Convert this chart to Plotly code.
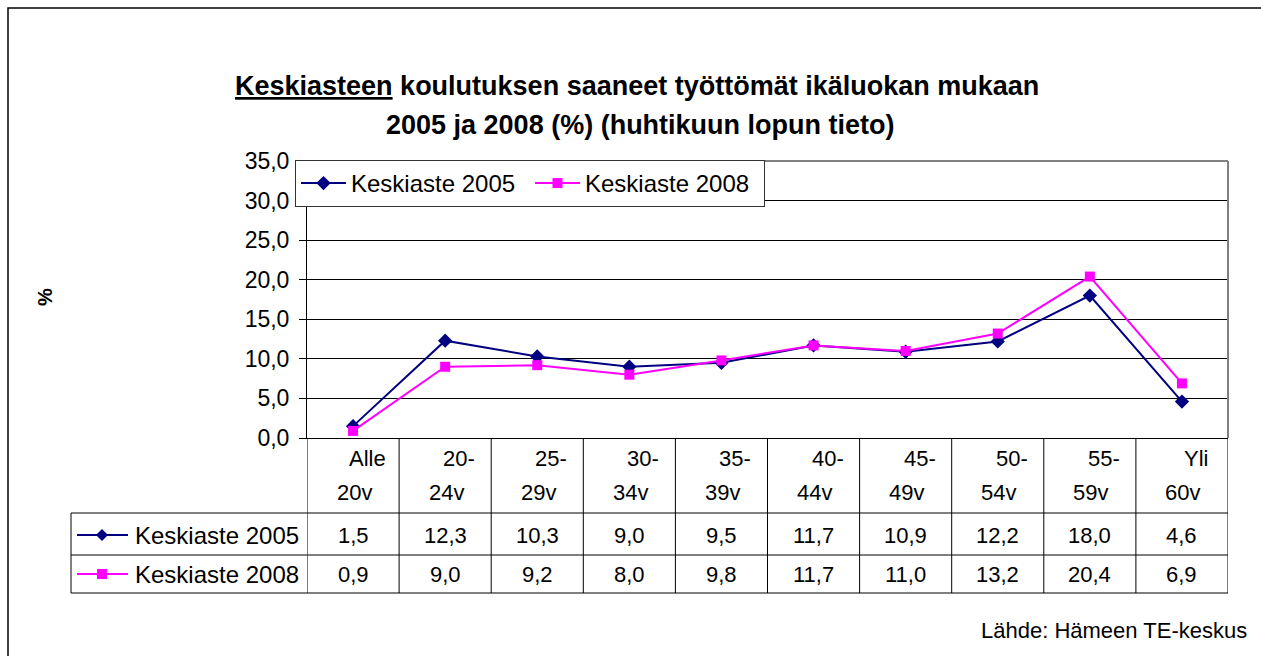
import plotly.graph_objects as go

# ---------------- data ----------------
cat_line1 = ["Alle", "20-", "25-", "30-", "35-", "40-", "45-", "50-", "55-", "Yli"]
cat_line2 = ["20v", "24v", "29v", "34v", "39v", "44v", "49v", "54v", "59v", "60v"]
categories = [a + " " + b for a, b in zip(cat_line1, cat_line2)]
series_names = ["Keskiaste 2005", "Keskiaste 2008"]
values_2005 = [1.5, 12.3, 10.3, 9.0, 9.5, 11.7, 10.9, 12.2, 18.0, 4.6]
values_2008 = [0.9, 9.0, 9.2, 8.0, 9.8, 11.7, 11.0, 13.2, 20.4, 6.9]
y_ticks = [0, 5, 10, 15, 20, 25, 30, 35]
title_line1 = "<span style='text-decoration:underline'>Keskiasteen</span> koulutuksen saaneet työttömät ikäluokan mukaan"
title_line2 = "2005 ja 2008 (%) (huhtikuun lopun tieto)"
source_text = "Lähde: Hämeen TE-keskus"

# ---------------- layout geometry (pixels) ----------------
W, H = 1261, 656
PL, PR, PT, PB = 307, 1228, 161, 438  # plot area
FONT = "Liberation Sans, Arial, sans-serif"
NAVY = "#000080"
MAG = "#FF00FF"


def px_x(p):
    return (p - PL) / (PR - PL)


def px_y(p):
    return (PB - p) / (PB - PT)


def fmt(v):
    return f"{v:.1f}".replace(".", ",")


def txt(text, x, y, xref="paper", size=22, xanchor="center", xshift=0, **kw):
    return dict(x=x, xref=xref, y=y, yref="paper", text=text, showarrow=False,
                xanchor=xanchor, yanchor="middle", xshift=xshift,
                font=dict(size=size, color="black", family=FONT), **kw)


fig = go.Figure()
fig.add_trace(go.Scatter(x=categories, y=values_2005, name=series_names[0], mode="lines+markers",
                         line=dict(color=NAVY, width=2),
                         marker=dict(symbol="diamond", size=11, color=NAVY)))
fig.add_trace(go.Scatter(x=categories, y=values_2008, name=series_names[1], mode="lines+markers",
                         line=dict(color=MAG, width=2),
                         marker=dict(symbol="square", size=10, color=MAG)))

shapes = []
annotations = []

# outer chart border (left/top visible)
shapes.append(dict(type="rect", xref="paper", yref="paper",
                   x0=px_x(8), x1=px_x(1275), y0=px_y(8), y1=px_y(680),
                   line=dict(color="black", width=1.5), layer="below"))
# plot area border (top & right gray)
shapes.append(dict(type="line", xref="paper", yref="paper", x0=0, x1=1, y0=1, y1=1,
                   line=dict(color="#808080", width=2)))
shapes.append(dict(type="line", xref="paper", yref="paper", x0=1, x1=1, y0=0, y1=1,
                   line=dict(color="#808080", width=2)))

# table lines
row_lines = [513, 555, 593]
for yy in row_lines:
    shapes.append(dict(type="line", xref="paper", yref="paper", x0=px_x(71), x1=1,
                       y0=px_y(yy), y1=px_y(yy), line=dict(color="black", width=1)))
shapes.append(dict(type="line", xref="paper", yref="paper", x0=px_x(71), x1=px_x(71),
                   y0=px_y(513), y1=px_y(593), line=dict(color="black", width=1)))
n = len(categories)
for i in range(n + 1):
    shapes.append(dict(type="line", xref="x", yref="paper", x0=i - 0.5, x1=i - 0.5,
                       y0=0, y1=px_y(593), line=dict(color="black", width=1)))

# category header labels
for i in range(n):
    annotations.append(txt(cat_line1[i], categories[i], px_y(458), xref="x", xshift=14))
    annotations.append(txt(cat_line2[i], categories[i], px_y(492), xref="x", xshift=1))

# table rows
row_y = [535, 574]
for vals, ry in zip([values_2005, values_2008], row_y):
    for i in range(n):
        annotations.append(txt(fmt(vals[i]), categories[i], px_y(ry), xref="x"))

# row headers with legend keys
for name, col, ry, sym in zip(series_names, [NAVY, MAG], row_y, ["diamond", "square"]):
    shapes.append(dict(type="line", xref="paper", yref="paper", x0=px_x(77), x1=px_x(128),
                       y0=px_y(ry), y1=px_y(ry), line=dict(color=col, width=2)))
    if sym == "diamond":
        shapes.append(dict(type="path", xref="paper", yref="paper", xsizemode="pixel", ysizemode="pixel",
                           xanchor=px_x(102), yanchor=px_y(ry), path="M-6,0 L0,6 L6,0 L0,-6 Z",
                           fillcolor=col, line=dict(color=col, width=0)))
    else:
        shapes.append(dict(type="rect", xref="paper", yref="paper", xsizemode="pixel", ysizemode="pixel",
                           xanchor=px_x(102), yanchor=px_y(ry), x0=-5, x1=5, y0=-5, y1=5,
                           fillcolor=col, line=dict(color=col, width=0)))
    annotations.append(txt(name, px_x(133), px_y(ry), size=24, xanchor="left"))

# title
annotations.append(txt("<b>" + title_line1 + "</b>", px_x(637), px_y(86), size=27))
annotations.append(txt("<b>" + title_line2 + "</b>", px_x(640), px_y(125), size=27))
# y axis label
annotations.append(txt("<b>%</b>", px_x(45), px_y(297), size=20, textangle=-90))
# source
annotations.append(txt(source_text, px_x(1249), px_y(630), size=22, xanchor="right"))

fig.update_layout(
    width=W, height=H,
    margin=dict(l=PL, r=W - PR, t=PT, b=H - PB, pad=0),
    paper_bgcolor="white", plot_bgcolor="white",
    separators=", ",
    font=dict(family=FONT, size=22, color="black"),
    showlegend=True,
    legend=dict(orientation="h", x=px_x(295), xanchor="left", y=px_y(160), yanchor="top",
                bgcolor="white", bordercolor="#333333", borderwidth=1,
                font=dict(size=24, family=FONT, color="black"), itemwidth=45,
                entrywidth=174, entrywidthmode="pixels", tracegroupgap=0),
    shapes=shapes,
    annotations=annotations,
)
fig.update_xaxes(type="category", range=[-0.5, n - 0.5], showticklabels=False, ticks="",
                 showgrid=False, showline=True, linecolor="black", linewidth=1, zeroline=False, fixedrange=True)
fig.update_yaxes(range=[0, 35], tickvals=y_ticks, tickformat=".1f", ticks="outside", ticklen=7,
                 tickcolor="black", showline=True, linecolor="black", linewidth=1,
                 showgrid=True, gridcolor="black", gridwidth=1, zeroline=False, ticklabelstandoff=5,
                 tickfont=dict(size=23, family=FONT, color="black"), fixedrange=True)

fig.write_html("out.html", config={"displayModeBar": False},
               post_script="document.body.style.margin='0';document.body.style.overflow='hidden';")
